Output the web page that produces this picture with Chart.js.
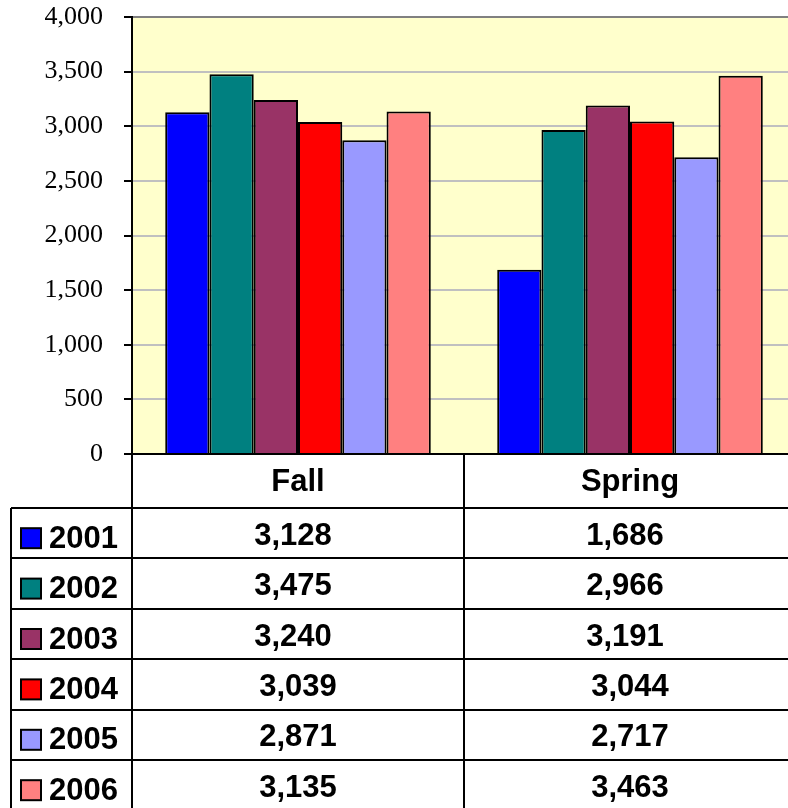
<!DOCTYPE html>
<html>
<head>
<meta charset="utf-8">
<script src="https://cdn.jsdelivr.net/npm/chart.js@4/dist/chart.umd.min.js"></script>
<style>
  html, body { margin: 0; padding: 0; background: #fff; }
  #wrap { width: 788px; height: 808px; overflow: hidden; }
</style>
</head>
<body>
<div id="wrap"><canvas id="chart" width="788" height="808"></canvas></div>
<script>
const categories = ["Fall", "Spring"];
const years = ["2001", "2002", "2003", "2004", "2005", "2006"];
const values2001 = [3128, 1686];
const values2002 = [3475, 2966];
const values2003 = [3240, 3191];
const values2004 = [3039, 3044];
const values2005 = [2871, 2717];
const values2006 = [3135, 3463];
const seriesValues = [values2001, values2002, values2003, values2004, values2005, values2006];
const seriesColors = ["#0000FF", "#008080", "#993366", "#FF0000", "#9999FF", "#FF8080"];

const fmt = (v) => new Intl.NumberFormat("en-US").format(v);

// the plot runs past the right edge of the page, like the original
const plotFrame = {
  id: "plotFrame",
  afterLayout(chart) {
    const a = chart.chartArea;
    a.top = 17;
    a.right = 796;
    a.width = a.right - a.left;
    a.height = a.bottom - a.top;
    const y = chart.scales.y;
    y.top = a.top;
    y.height = a.bottom - a.top;
    y.configure();
    const x = chart.scales.x;
    x.right = a.right;
    x.width = a.right - x.left;
    x.configure();
  },
  beforeDraw(chart) {
    const { ctx, chartArea: a } = chart;
    ctx.save();
    ctx.fillStyle = "#FFFFCC";
    ctx.fillRect(a.left, a.top, a.right - a.left, a.bottom - a.top);
    ctx.restore();
  },
};

// data table under the plot
const dataTable = {
  id: "dataTable",
  afterDraw(chart) {
    const { ctx, chartArea: a } = chart;
    const x = chart.scales.x;
    const mid = (x.getPixelForValue(0) + x.getPixelForValue(1)) / 2;
    const tableLeft = 11;
    const headTop = a.bottom;
    const firstRow = 508;
    const rowH = 50.4;

    ctx.save();
    ctx.strokeStyle = "#000";
    ctx.lineWidth = 2;

    for (let i = 0; i <= years.length; i++) {
      const y = Math.round(firstRow + i * rowH);
      ctx.beginPath();
      ctx.moveTo(tableLeft, y);
      ctx.lineTo(chart.width, y);
      ctx.stroke();
    }
    ctx.beginPath();
    ctx.moveTo(tableLeft, firstRow);
    ctx.lineTo(tableLeft, chart.height);
    ctx.moveTo(a.left, a.top);
    ctx.lineTo(a.left, chart.height);
    ctx.moveTo(mid, headTop);
    ctx.lineTo(mid, chart.height);
    ctx.stroke();

    // category axis line
    ctx.beginPath();
    ctx.moveTo(a.left - 8, a.bottom);
    ctx.lineTo(a.right, a.bottom);
    ctx.stroke();

    ctx.fillStyle = "#000";
    ctx.font = "bold 31px 'Liberation Sans', Arial, sans-serif";
    ctx.textBaseline = "middle";
    ctx.textAlign = "center";
    categories.forEach((c, i) => {
      ctx.fillText(c, x.getPixelForValue(i), (headTop + firstRow) / 2 + 1);
    });

    years.forEach((yr, r) => {
      const cy = firstRow + r * rowH + rowH / 2 + 3;
      ctx.fillStyle = seriesColors[r];
      ctx.fillRect(21, cy - 8, 20, 20);
      ctx.strokeStyle = "#000";
      ctx.strokeRect(21, cy - 8, 20, 20);
      ctx.fillStyle = "#000";
      ctx.textAlign = "left";
      ctx.fillText(yr, 49, cy + 3);
      ctx.textAlign = "center";
      const shift = r < 3 ? -5 : 0;
      seriesValues[r].forEach((v, i) => {
        ctx.fillText(fmt(v), x.getPixelForValue(i) + shift, cy);
      });
    });
    ctx.restore();
  },
};

new Chart(document.getElementById("chart"), {
  type: "bar",
  data: {
    labels: categories,
    datasets: years.map((yr, i) => ({
      label: yr,
      data: seriesValues[i],
      backgroundColor: seriesColors[i],
      borderColor: "#000",
      borderWidth: 2,
      categoryPercentage: 0.8,
      barPercentage: 1.0,
    })),
  },
  options: {
    responsive: false,
    animation: false,
    layout: { padding: { top: 17, bottom: 354, left: 0, right: 0 } },
    plugins: { legend: { display: false }, tooltip: { enabled: false } },
    scales: {
      x: { display: false },
      y: {
        min: 0,
        max: 4000,
        ticks: {
          stepSize: 500,
          padding: 21,
          color: "#000",
          font: { family: "'Liberation Serif', 'Times New Roman', serif", size: 26 },
          callback: (v) => fmt(v),
        },
        grid: {
          color: (c) => (c.tick && c.tick.value === 4000 ? "#808080" : "#C0C0C0"),
          lineWidth: 2,
          tickLength: 8,
          tickColor: "#000",
        },
        border: { color: "#000", width: 2 },
        afterFit: (s) => { s.width = 132; },
      },
    },
  },
  plugins: [plotFrame, dataTable],
});
</script>
</body>
</html>
